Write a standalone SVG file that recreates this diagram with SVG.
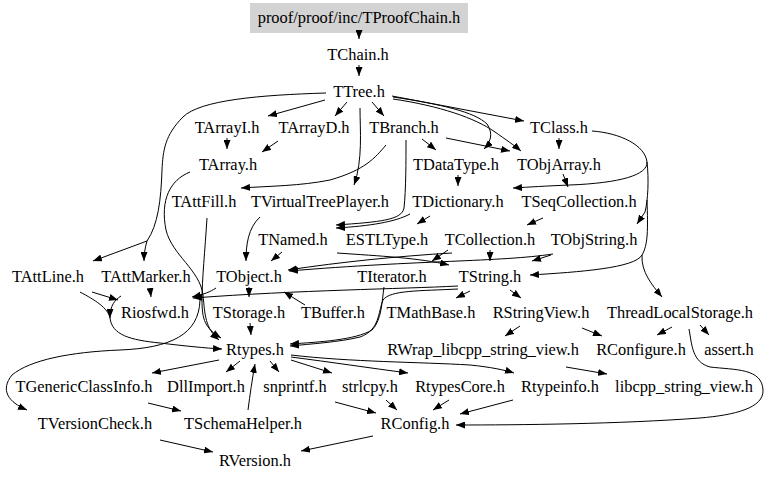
<svg xmlns="http://www.w3.org/2000/svg" width="768" height="481" viewBox="0 0 768 481" font-family="'Liberation Serif', 'DejaVu Serif', serif">
<style>
text{font-family:'Liberation Serif','DejaVu Serif',serif;font-size:16.4px;fill:#000;text-anchor:middle}
.e path{fill:none;stroke:#000;stroke-width:1;marker-end:url(#a)}
</style>
<defs>
<marker id="a" markerWidth="9" markerHeight="7" refX="9" refY="3.5" orient="auto" markerUnits="userSpaceOnUse"><path d="M0,0 L9,3.5 L0,7 z" fill="#000"/></marker>
</defs>
<rect width="768" height="481" fill="#fff"/>
<g id="header"><rect x="250" y="3" width="218" height="30" fill="#d3d3d3"/><text x="359" y="23">proof/proof/inc/TProofChain.h</text></g>
<g id="TChain"><text x="358" y="60">TChain.h</text></g>
<g id="TTree"><text x="359" y="97">TTree.h</text></g>
<g id="TArrayI"><text x="227" y="133">TArrayI.h</text></g>
<g id="TArrayD"><text x="314" y="133">TArrayD.h</text></g>
<g id="TBranch"><text x="404" y="133">TBranch.h</text></g>
<g id="TClass"><text x="559" y="133">TClass.h</text></g>
<g id="TArray"><text x="228" y="170">TArray.h</text></g>
<g id="TDataType"><text x="456" y="170">TDataType.h</text></g>
<g id="TObjArray"><text x="559" y="170">TObjArray.h</text></g>
<g id="TAttFill"><text x="204" y="207">TAttFill.h</text></g>
<g id="TVirtualTreePlayer"><text x="320" y="207">TVirtualTreePlayer.h</text></g>
<g id="TDictionary"><text x="458" y="207">TDictionary.h</text></g>
<g id="TSeqCollection"><text x="579" y="207">TSeqCollection.h</text></g>
<g id="TNamed"><text x="293" y="245">TNamed.h</text></g>
<g id="ESTLType"><text x="387" y="245">ESTLType.h</text></g>
<g id="TCollection"><text x="490" y="245">TCollection.h</text></g>
<g id="TObjString"><text x="594" y="245">TObjString.h</text></g>
<g id="TAttLine"><text x="48" y="282">TAttLine.h</text></g>
<g id="TAttMarker"><text x="146" y="282">TAttMarker.h</text></g>
<g id="TObject"><text x="249" y="282">TObject.h</text></g>
<g id="TIterator"><text x="392" y="282">TIterator.h</text></g>
<g id="TString"><text x="490" y="282">TString.h</text></g>
<g id="Riosfwd"><text x="155" y="318">Riosfwd.h</text></g>
<g id="TStorage"><text x="249" y="318">TStorage.h</text></g>
<g id="TBuffer"><text x="333" y="318">TBuffer.h</text></g>
<g id="TMathBase"><text x="431" y="318">TMathBase.h</text></g>
<g id="RStringView"><text x="541" y="318">RStringView.h</text></g>
<g id="ThreadLocalStorage"><text x="680" y="318">ThreadLocalStorage.h</text></g>
<g id="Rtypes"><text x="255" y="355">Rtypes.h</text></g>
<g id="RWrap"><text x="483" y="355">RWrap_libcpp_string_view.h</text></g>
<g id="RConfigure"><text x="641" y="355">RConfigure.h</text></g>
<g id="assert"><text x="729" y="355">assert.h</text></g>
<g id="TGenericClassInfo"><text x="84" y="392">TGenericClassInfo.h</text></g>
<g id="DllImport"><text x="206" y="392">DllImport.h</text></g>
<g id="snprintf"><text x="295" y="392">snprintf.h</text></g>
<g id="strlcpy"><text x="370" y="392">strlcpy.h</text></g>
<g id="RtypesCore"><text x="460" y="392">RtypesCore.h</text></g>
<g id="Rtypeinfo"><text x="560" y="392">Rtypeinfo.h</text></g>
<g id="libcpp_string_view"><text x="684" y="392">libcpp_string_view.h</text></g>
<g id="TVersionCheck"><text x="95" y="429">TVersionCheck.h</text></g>
<g id="TSchemaHelper"><text x="243" y="429">TSchemaHelper.h</text></g>
<g id="RConfig"><text x="415" y="429">RConfig.h</text></g>
<g id="RVersion"><text x="255" y="466">RVersion.h</text></g>
<g id="edges" class="e">
<path d="M359,33 L359,39"/>
<path d="M359,65 L359,76"/>
<path d="M325,100 L268,116"/>
<path d="M347,102 L335,116"/>
<path d="M372,102 L384,116"/>
<path d="M392,96 L524,121"/>
<path d="M393,99 C440,106 475,118 495,132 C505,139 515,146 521,151"/>
<path d="M393,97 C440,104 475,112 487,124 C494,134 490,143 484,149"/>
<path d="M360,108 C360,130 363,160 354,185"/>
<path d="M326,93 C260,95 200,100 183,117 C165,135 163,150 162,170 C161,200 158,225 147,241 L93,261"/>
<path d="M147,241 C145,248 144,254 144,261"/>
<path d="M227,138 L227,149"/>
<path d="M278,141 L262,152"/>
<path d="M422,139 L436,150"/>
<path d="M446,138 L510,151"/>
<path d="M559,138 L559,149"/>
<path d="M386,145 C375,158 365,170 330,180 C300,186 270,186 241,188"/>
<path d="M406,140 C406,160 406,190 404,208 C402,220 380,222 336,225"/>
<path d="M410,214 C395,222 370,226 336,228"/>
<path d="M592,131 C620,133 645,145 647,162 C648,175 620,183 570,185 C545,186 530,187 513,188"/>
<path d="M563,174 L568,187"/>
<path d="M647,162 C649,180 648,200 645,212 L637,224"/>
<path d="M647,200 C648,230 648,245 642,255 C635,268 580,272 530,275"/>
<path d="M642,255 C641,272 652,285 662,297"/>
<path d="M458,175 L458,186"/>
<path d="M430,216 L417,224"/>
<path d="M543,218 L527,225"/>
<path d="M490,250 L490,261"/>
<path d="M551,255 L532,261"/>
<path d="M448,250 L432,261"/>
<path d="M337,253 C380,256 420,258 449,265"/>
<path d="M452,253 C400,256 340,262 288,270"/>
<path d="M553,254 C500,262 420,260 289,271"/>
<path d="M282,252 L271,261"/>
<path d="M260,217 C248,228 246,245 246,261"/>
<path d="M249,287 L249,297"/>
<path d="M250,323 L251,335"/>
<path d="M305,305 L284,292"/>
<path d="M216,288 C210,292 205,294 192,297"/>
<path d="M458,286 C400,289 300,290 193,298"/>
<path d="M458,289 C420,291 390,290 383,300 C378,312 380,330 360,337 C340,342 310,344 290,346"/>
<path d="M384,287 C382,300 382,320 372,330 C355,340 320,342 290,344"/>
<path d="M470,291 L456,298"/>
<path d="M510,290 L521,298"/>
<path d="M190,172 C170,180 160,200 166,230 C172,255 200,270 203,295 C205,315 205,328 219,340"/>
<path d="M207,218 C205,250 202,280 202,300 C202,320 205,328 221,338"/>
<path d="M200,300 C199,335 170,348 120,350 C70,352 30,360 12,375 C0,390 8,402 27,410"/>
<path d="M92,292 L118,300"/>
<path d="M150,288 L151,297"/>
<path d="M80,292 C95,300 108,308 110,318 C112,335 130,340 160,343 C185,346 205,348 222,349"/>
<path d="M121,296 C115,300 110,305 110,318"/>
<path d="M219,360 L152,373"/>
<path d="M240,361 L226,372"/>
<path d="M270,361 L279,372"/>
<path d="M291,360 L332,373"/>
<path d="M291,357 C330,362 370,368 408,373"/>
<path d="M291,355 C350,362 420,362 470,365 C490,367 505,370 514,373"/>
<path d="M248,410 C250,395 252,380 255,364"/>
<path d="M148,403 L181,411"/>
<path d="M160,440 L213,452"/>
<path d="M373,436 L301,451"/>
<path d="M335,402 L376,413"/>
<path d="M386,400 L397,410"/>
<path d="M449,400 L433,410"/>
<path d="M513,400 L460,414"/>
<path d="M689,329 C692,345 692,362 710,367 C735,370 762,368 763,390 C764,408 735,415 700,418 C620,424 520,425 456,425"/>
<path d="M520,326 L505,336"/>
<path d="M582,328 L602,336"/>
<path d="M672,327 L657,335"/>
<path d="M700,325 L709,335"/>
<path d="M566,367 L607,374"/>
</g>
</svg>
